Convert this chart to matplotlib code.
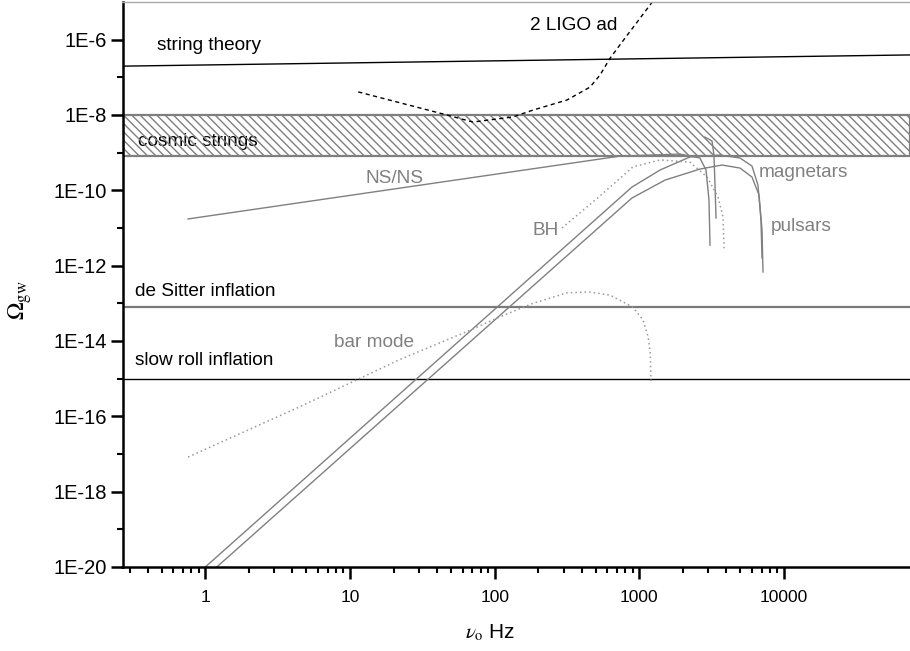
# Fondo de ondas gravitacionales: Omega_gw vs frecuencia
import numpy as np
import matplotlib
matplotlib.use("Agg")
import matplotlib.pyplot as plt

plt.rcParams['font.family'] = ['Liberation Sans', 'DejaVu Sans']
plt.rcParams['mathtext.fontset'] = 'stix'
plt.rcParams['hatch.color'] = '#7f7f7f'
plt.rcParams['hatch.linewidth'] = 1.0

# datos (Hz, Omega_gw)
string_x = [0.2, 80000]
string_y = [1.95e-7, 3.95e-7]

ligo_x = [11.4, 46.8, 70.8, 134, 184, 316, 456, 535, 627, 796, 1011, 1284]
ligo_y = [4.1e-8, 1.0e-8, 6.5e-9, 8.9e-9, 1.35e-8, 2.5e-8, 5.5e-8, 1.15e-7,
          3.2e-7, 1.1e-6, 3.7e-6, 1.25e-5]

cosmic_lo, cosmic_hi = 8.4e-10, 1.0e-8
desitter = 7.8e-14
slowroll = 1.0e-15

nsns_x = [0.76, 735, 1910, 2625, 2890, 3030, 3080]
nsns_y = [1.74e-11, 8.1e-10, 9.2e-10, 7.2e-10, 3.46e-10, 5.5e-11, 3.5e-12]

magnetar_x = [1.0, 889, 1390, 2240, 3610, 4970, 6010, 6610, 6930, 7050]
magnetar_y = [1e-20, 1.22e-10, 3.46e-10, 7.7e-10, 8.65e-10, 7.2e-10, 4.4e-10,
              1.38e-10, 1.63e-11, 1.6e-12]

pulsar_x = [1.2, 889, 1505, 2625, 3730, 4970, 6010, 6720, 7050, 7160]
pulsar_y = [1e-20, 6.25e-11, 1.87e-10, 3.67e-10, 4.7e-10, 3.9e-10, 2.25e-10,
            7.5e-11, 8.8e-12, 6.8e-13]

extra_x = [2840, 3180, 3280, 3335, 3390]
extra_y = [2.6e-9, 2.04e-9, 8.65e-10, 1.38e-10, 1.84e-11]

bh_x = [292, 535, 904, 1390, 2240, 2940, 3500, 3790, 3850]
bh_y = [1.0e-11, 7.1e-11, 4.2e-10, 6.4e-10, 5.6e-10, 2.25e-10, 6.6e-11,
        1.95e-11, 2.9e-12]

bar_x = [0.76, 4.5, 22, 68, 109, 184, 316, 456, 627, 904, 1060, 1150, 1190, 1205]
bar_y = [8.3e-18, 1.8e-16, 3.2e-15, 1.95e-14, 4.4e-14, 1.0e-13, 1.9e-13, 2.0e-13,
         1.65e-13, 7.9e-14, 3.6e-14, 1.3e-14, 4.8e-15, 7.6e-16]

yticks = [1e-6, 1e-8, 1e-10, 1e-12, 1e-14, 1e-16, 1e-18, 1e-20]
ylabels = ['1E-6', '1E-8', '1E-10', '1E-12', '1E-14', '1E-16', '1E-18', '1E-20']
xticks = [1, 10, 100, 1000, 10000]
xlabels = ['1', '10', '100', '1000', '10000']

gris = '#808080'
fs = 13.7

fig = plt.figure(figsize=(9.1, 6.51), dpi=100)
ax = fig.add_axes([122.5 / 910, 84 / 651, 787.5 / 910, 565 / 651])
ax.set_xscale('log')
ax.set_yscale('log')

# lineas de fondo
ax.plot(string_x, string_y, color='black', lw=1.0)
ax.axhline(desitter, color='#7a7a7a', lw=1.6)
ax.axhline(slowroll, color='black', lw=1.0)

# banda de cuerdas cosmicas (rayada)
ax.text(0.343, 2.04e-9, 'cosmic strings', fontsize=fs, va='center', zorder=1)
ax.axhspan(cosmic_lo, cosmic_hi, facecolor='none', edgecolor='#7f7f7f',
           hatch='\\\\\\\\', lw=1.6, zorder=2)

# fuentes astrofisicas
ax.plot(ligo_x, ligo_y, color='black', lw=1.0, ls=(0, (3, 2.5)))
ax.plot(nsns_x, nsns_y, color=gris, lw=1.0)
ax.plot(magnetar_x, magnetar_y, color=gris, lw=1.0)
ax.plot(pulsar_x, pulsar_y, color=gris, lw=1.0)
ax.plot(extra_x, extra_y, color=gris, lw=1.0)
ax.plot(bh_x, bh_y, color='#999999', lw=1.1, ls=(0, (1, 2)))
ax.plot(bar_x, bar_y, color='#999999', lw=1.1, ls=(0, (1, 2)))

# etiquetas
ax.text(0.46, 6.8e-7, 'string theory', fontsize=fs, va='center')
ax.text(175, 2.45e-6, '2 LIGO ad', fontsize=fs, va='center')
ax.text(12.7, 2.1e-10, 'NS/NS', fontsize=fs, va='center', color=gris)
ax.text(6720, 3.06e-10, 'magnetars', fontsize=fs, va='center', color=gris)
ax.text(184, 8.8e-12, 'BH', fontsize=fs, va='center', color=gris)
ax.text(8130, 1.13e-11, 'pulsars', fontsize=fs, va='center', color=gris)
ax.text(0.327, 2.0e-13, 'de Sitter inflation', fontsize=fs, va='center')
ax.text(7.75, 9.4e-15, 'bar mode', fontsize=fs, va='center', color=gris)
ax.text(0.327, 2.95e-15, 'slow roll inflation', fontsize=fs, va='center')

ax.set_xlim(0.2676, 74300)
ax.set_ylim(1e-20, 1e-5)

# ejes y ticks
ax.set_yticks(yticks)
ax.set_yticklabels(ylabels)
ax.set_yticks([10.0 ** e for e in range(-19, -5, 2)], minor=True)
ax.set_yticklabels([], minor=True)
ax.set_xticks(xticks)
ax.set_xticklabels(xlabels)
minx = [m * 10.0 ** d for d in range(-1, 4) for m in range(2, 10)]
minx = [v for v in minx if v > 0.27]
ax.set_xticks(minx, minor=True)
ax.set_xticklabels([], minor=True)
ax.tick_params(which='major', direction='out', length=8.5, width=1.8)
ax.tick_params(which='minor', direction='out', length=4, width=1.5)
ax.tick_params(axis='x', which='major', labelsize=12.5, pad=8)
ax.tick_params(axis='y', which='major', labelsize=14.5, pad=3)

ax.spines['left'].set_linewidth(1.8)
ax.spines['bottom'].set_linewidth(1.8)
ax.spines['right'].set_visible(False)
ax.spines['top'].set_color('#aaaaaa')
ax.spines['top'].set_linewidth(1.0)

ax.set_xlabel(r'$\nu_{\mathrm{o}}$ Hz', fontsize=15)
ax.xaxis.set_label_coords(0.4667, -0.097)
fig.text(20 / 910, 1 - 300 / 651, r'$\Omega_{\mathrm{gw}}$', fontsize=17,
         rotation=90, ha='center', va='center')

fig.savefig('out.png', dpi=100)
